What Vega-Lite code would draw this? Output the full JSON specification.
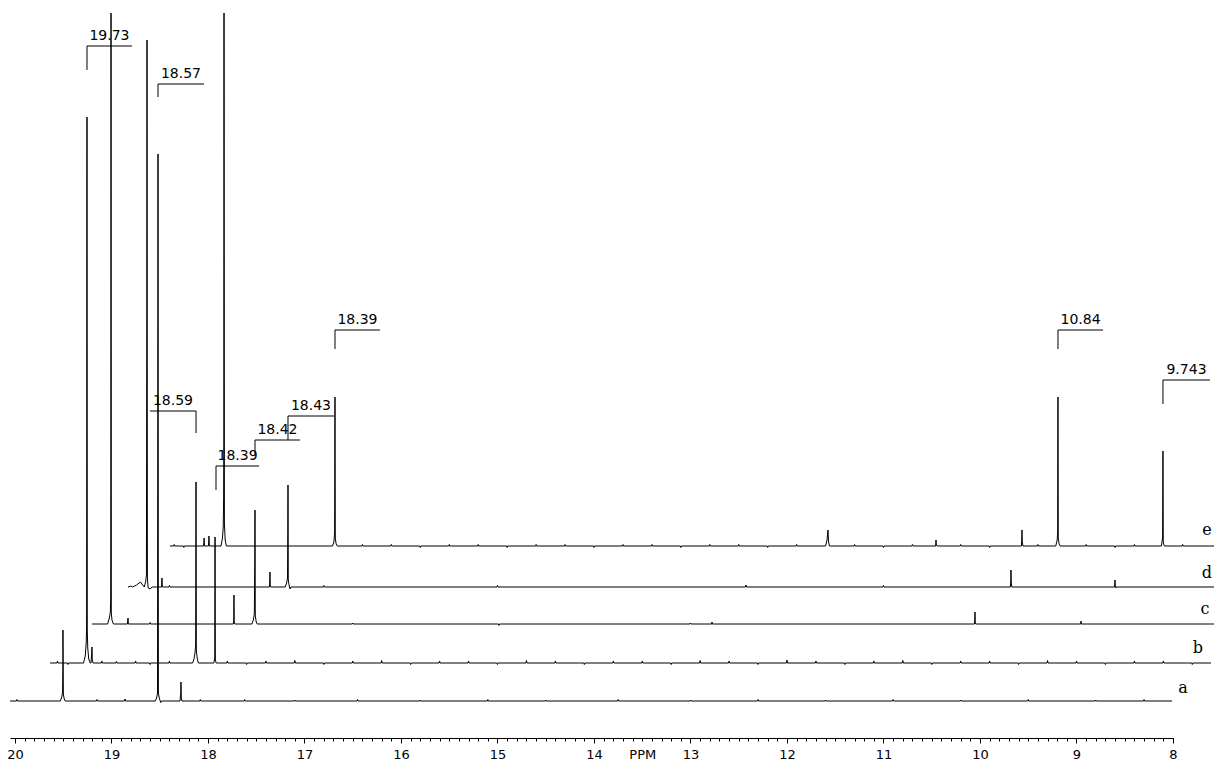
{
  "$schema": "https://vega.github.io/schema/vega-lite/v6.json",
  "width": 1163,
  "height": 725,
  "autosize": {"type": "none"},
  "padding": {"left": 10, "top": 13, "right": 41, "bottom": 25},
  "background": "white",
  "config": {"view": {"stroke": null}, "font": "DejaVu Sans", "axis": {"labelOverlap": false, "labelBound": false, "labelFlush": false}},
  "datasets": {
    "spec": [
      {"s":"a","x":20.052,"y":37},
      {"s":"a","x":19.985,"y":37},{"s":"a","x":19.98,"y":38.5},{"s":"a","x":19.975,"y":37},
      {"s":"a","x":19.53,"y":37},{"s":"a","x":19.515,"y":41},{"s":"a","x":19.507,"y":46},{"s":"a","x":19.504,"y":70},{"s":"a","x":19.503,"y":108},{"s":"a","x":19.499,"y":44},{"s":"a","x":19.49,"y":39},{"s":"a","x":19.48,"y":37},
      {"s":"a","x":19.155,"y":37},{"s":"a","x":19.15,"y":38.5},{"s":"a","x":19.145,"y":37},
      {"s":"a","x":18.865,"y":37},{"s":"a","x":18.86,"y":39},{"s":"a","x":18.855,"y":37},
      {"s":"a","x":18.545,"y":37},{"s":"a","x":18.53,"y":41},{"s":"a","x":18.523,"y":45},{"s":"a","x":18.521,"y":258},{"s":"a","x":18.518,"y":584},{"s":"a","x":18.514,"y":45},{"s":"a","x":18.505,"y":40},{"s":"a","x":18.49,"y":35.5},{"s":"a","x":18.48,"y":37},
      {"s":"a","x":18.29,"y":37},{"s":"a","x":18.282,"y":45},{"s":"a","x":18.28,"y":56},{"s":"a","x":18.277,"y":40},{"s":"a","x":18.27,"y":37},
      {"s":"a","x":18.085,"y":37},{"s":"a","x":18.08,"y":38.5},{"s":"a","x":18.075,"y":37},
      {"s":"a","x":17.625,"y":37},{"s":"a","x":17.62,"y":38.5},{"s":"a","x":17.615,"y":37},
      {"s":"a","x":17.105,"y":37},{"s":"a","x":17.1,"y":38},{"s":"a","x":17.095,"y":37},
      {"s":"a","x":16.455,"y":37},{"s":"a","x":16.45,"y":38.5},{"s":"a","x":16.445,"y":37},
      {"s":"a","x":15.805,"y":37},{"s":"a","x":15.8,"y":38},{"s":"a","x":15.795,"y":37},
      {"s":"a","x":15.105,"y":37},{"s":"a","x":15.1,"y":38.5},{"s":"a","x":15.095,"y":37},
      {"s":"a","x":14.505,"y":37},{"s":"a","x":14.5,"y":38},{"s":"a","x":14.495,"y":37},
      {"s":"a","x":13.755,"y":37},{"s":"a","x":13.75,"y":38.5},{"s":"a","x":13.745,"y":37},
      {"s":"a","x":13.005,"y":37},{"s":"a","x":13.0,"y":38},{"s":"a","x":12.995,"y":37},
      {"s":"a","x":12.305,"y":37},{"s":"a","x":12.3,"y":38.5},{"s":"a","x":12.295,"y":37},
      {"s":"a","x":11.605,"y":37},{"s":"a","x":11.6,"y":38},{"s":"a","x":11.595,"y":37},
      {"s":"a","x":10.905,"y":37},{"s":"a","x":10.9,"y":38.5},{"s":"a","x":10.895,"y":37},
      {"s":"a","x":10.205,"y":37},{"s":"a","x":10.2,"y":38},{"s":"a","x":10.195,"y":37},
      {"s":"a","x":9.505,"y":37},{"s":"a","x":9.5,"y":38.5},{"s":"a","x":9.495,"y":37},
      {"s":"a","x":8.805,"y":37},{"s":"a","x":8.8,"y":38},{"s":"a","x":8.795,"y":37},
      {"s":"a","x":8.305,"y":37},{"s":"a","x":8.3,"y":38.5},{"s":"a","x":8.295,"y":37},
      {"s":"a","x":8.01,"y":37},

      {"s":"b","x":19.637,"y":75},
      {"s":"b","x":19.565,"y":75},{"s":"b","x":19.56,"y":77},{"s":"b","x":19.555,"y":75},
      {"s":"b","x":19.455,"y":75},{"s":"b","x":19.45,"y":73.5},{"s":"b","x":19.445,"y":75},
      {"s":"b","x":19.29,"y":75},{"s":"b","x":19.272,"y":82},{"s":"b","x":19.262,"y":95},{"s":"b","x":19.258,"y":110},{"s":"b","x":19.256,"y":365},{"s":"b","x":19.254,"y":621},{"s":"b","x":19.251,"y":108},{"s":"b","x":19.246,"y":90},{"s":"b","x":19.236,"y":79},{"s":"b","x":19.22,"y":75},
      {"s":"b","x":19.212,"y":75},{"s":"b","x":19.206,"y":84},{"s":"b","x":19.202,"y":91},{"s":"b","x":19.199,"y":78},{"s":"b","x":19.19,"y":75},
      {"s":"b","x":19.105,"y":75},{"s":"b","x":19.1,"y":77},{"s":"b","x":19.095,"y":75},
      {"s":"b","x":18.955,"y":75},{"s":"b","x":18.95,"y":76.5},{"s":"b","x":18.945,"y":75},
      {"s":"b","x":18.755,"y":75},{"s":"b","x":18.75,"y":77},{"s":"b","x":18.745,"y":75},
      {"s":"b","x":18.605,"y":75},{"s":"b","x":18.6,"y":73.5},{"s":"b","x":18.595,"y":75},
      {"s":"b","x":18.405,"y":75},{"s":"b","x":18.4,"y":77},{"s":"b","x":18.395,"y":75},
      {"s":"b","x":18.16,"y":75},{"s":"b","x":18.145,"y":79},{"s":"b","x":18.135,"y":85},{"s":"b","x":18.128,"y":92},{"s":"b","x":18.126,"y":170},{"s":"b","x":18.124,"y":256},{"s":"b","x":18.121,"y":88},{"s":"b","x":18.112,"y":80},{"s":"b","x":18.1,"y":75},
      {"s":"b","x":17.94,"y":75},{"s":"b","x":17.93,"y":80},{"s":"b","x":17.927,"y":201},{"s":"b","x":17.924,"y":78},{"s":"b","x":17.915,"y":75},
      {"s":"b","x":17.805,"y":75},{"s":"b","x":17.8,"y":77},{"s":"b","x":17.795,"y":75},
      {"s":"b","x":17.605,"y":75},{"s":"b","x":17.6,"y":73.5},{"s":"b","x":17.595,"y":75},
      {"s":"b","x":17.405,"y":75},{"s":"b","x":17.4,"y":77},{"s":"b","x":17.395,"y":75},
      {"s":"b","x":17.105,"y":75},{"s":"b","x":17.1,"y":77.5},{"s":"b","x":17.095,"y":75},
      {"s":"b","x":16.805,"y":75},{"s":"b","x":16.8,"y":73.5},{"s":"b","x":16.795,"y":75},
      {"s":"b","x":16.505,"y":75},{"s":"b","x":16.5,"y":77},{"s":"b","x":16.495,"y":75},
      {"s":"b","x":16.205,"y":75},{"s":"b","x":16.2,"y":77.5},{"s":"b","x":16.195,"y":75},
      {"s":"b","x":15.905,"y":75},{"s":"b","x":15.9,"y":73.5},{"s":"b","x":15.895,"y":75},
      {"s":"b","x":15.605,"y":75},{"s":"b","x":15.6,"y":77},{"s":"b","x":15.595,"y":75},
      {"s":"b","x":15.305,"y":75},{"s":"b","x":15.3,"y":77},{"s":"b","x":15.295,"y":75},
      {"s":"b","x":15.005,"y":75},{"s":"b","x":15.0,"y":73.5},{"s":"b","x":14.995,"y":75},
      {"s":"b","x":14.705,"y":75},{"s":"b","x":14.7,"y":77.5},{"s":"b","x":14.695,"y":75},
      {"s":"b","x":14.405,"y":75},{"s":"b","x":14.4,"y":77},{"s":"b","x":14.395,"y":75},
      {"s":"b","x":14.105,"y":75},{"s":"b","x":14.1,"y":73.5},{"s":"b","x":14.095,"y":75},
      {"s":"b","x":13.805,"y":75},{"s":"b","x":13.8,"y":77},{"s":"b","x":13.795,"y":75},
      {"s":"b","x":13.505,"y":75},{"s":"b","x":13.5,"y":77},{"s":"b","x":13.495,"y":75},
      {"s":"b","x":13.205,"y":75},{"s":"b","x":13.2,"y":73.5},{"s":"b","x":13.195,"y":75},
      {"s":"b","x":12.905,"y":75},{"s":"b","x":12.9,"y":77.5},{"s":"b","x":12.895,"y":75},
      {"s":"b","x":12.605,"y":75},{"s":"b","x":12.6,"y":77},{"s":"b","x":12.595,"y":75},
      {"s":"b","x":12.305,"y":75},{"s":"b","x":12.3,"y":73.5},{"s":"b","x":12.295,"y":75},
      {"s":"b","x":12.005,"y":75},{"s":"b","x":12.0,"y":78},{"s":"b","x":11.995,"y":75},
      {"s":"b","x":11.705,"y":75},{"s":"b","x":11.7,"y":77},{"s":"b","x":11.695,"y":75},
      {"s":"b","x":11.405,"y":75},{"s":"b","x":11.4,"y":73.5},{"s":"b","x":11.395,"y":75},
      {"s":"b","x":11.105,"y":75},{"s":"b","x":11.1,"y":77},{"s":"b","x":11.095,"y":75},
      {"s":"b","x":10.805,"y":75},{"s":"b","x":10.8,"y":77.5},{"s":"b","x":10.795,"y":75},
      {"s":"b","x":10.505,"y":75},{"s":"b","x":10.5,"y":73.5},{"s":"b","x":10.495,"y":75},
      {"s":"b","x":10.205,"y":75},{"s":"b","x":10.2,"y":77},{"s":"b","x":10.195,"y":75},
      {"s":"b","x":9.905,"y":75},{"s":"b","x":9.9,"y":77},{"s":"b","x":9.895,"y":75},
      {"s":"b","x":9.605,"y":75},{"s":"b","x":9.6,"y":73.5},{"s":"b","x":9.595,"y":75},
      {"s":"b","x":9.305,"y":75},{"s":"b","x":9.3,"y":77.5},{"s":"b","x":9.295,"y":75},
      {"s":"b","x":9.005,"y":75},{"s":"b","x":9.0,"y":77},{"s":"b","x":8.995,"y":75},
      {"s":"b","x":8.705,"y":75},{"s":"b","x":8.7,"y":73.5},{"s":"b","x":8.695,"y":75},
      {"s":"b","x":8.405,"y":75},{"s":"b","x":8.4,"y":77},{"s":"b","x":8.395,"y":75},
      {"s":"b","x":8.105,"y":75},{"s":"b","x":8.1,"y":77},{"s":"b","x":8.095,"y":75},
      {"s":"b","x":7.805,"y":75},{"s":"b","x":7.8,"y":73.5},{"s":"b","x":7.795,"y":75},
      {"s":"b","x":7.606,"y":75},

      {"s":"c","x":19.202,"y":114},
      {"s":"c","x":19.04,"y":114},{"s":"c","x":19.022,"y":120},{"s":"c","x":19.012,"y":126},{"s":"c","x":19.008,"y":140},{"s":"c","x":19.006,"y":401},{"s":"c","x":19.005,"y":725},{"s":"c","x":19.002,"y":125},{"s":"c","x":18.995,"y":118},{"s":"c","x":18.98,"y":114},
      {"s":"c","x":18.835,"y":114},{"s":"c","x":18.829,"y":120},{"s":"c","x":18.825,"y":114},
      {"s":"c","x":18.605,"y":114},{"s":"c","x":18.6,"y":115.5},{"s":"c","x":18.595,"y":114},
      {"s":"c","x":17.738,"y":114},{"s":"c","x":17.733,"y":118},{"s":"c","x":17.731,"y":143},{"s":"c","x":17.728,"y":116},{"s":"c","x":17.722,"y":114},
      {"s":"c","x":17.545,"y":114},{"s":"c","x":17.53,"y":118},{"s":"c","x":17.52,"y":124},{"s":"c","x":17.515,"y":180},{"s":"c","x":17.513,"y":228},{"s":"c","x":17.51,"y":122},{"s":"c","x":17.5,"y":116},{"s":"c","x":17.49,"y":114},
      {"s":"c","x":16.505,"y":114},{"s":"c","x":16.5,"y":115},{"s":"c","x":16.495,"y":114},
      {"s":"c","x":14.99,"y":114},{"s":"c","x":14.985,"y":112.5},{"s":"c","x":14.98,"y":114},
      {"s":"c","x":13.005,"y":114},{"s":"c","x":13.0,"y":115},{"s":"c","x":12.995,"y":114},
      {"s":"c","x":12.78,"y":114},{"s":"c","x":12.777,"y":116},{"s":"c","x":12.774,"y":114},
      {"s":"c","x":10.058,"y":114},{"s":"c","x":10.053,"y":120},{"s":"c","x":10.052,"y":126},{"s":"c","x":10.049,"y":115},{"s":"c","x":10.044,"y":114},
      {"s":"c","x":8.956,"y":114},{"s":"c","x":8.953,"y":117},{"s":"c","x":8.95,"y":114},
      {"s":"c","x":7.554,"y":114},

      {"s":"d","x":18.829,"y":151},
      {"s":"d","x":18.8,"y":152},{"s":"d","x":18.78,"y":151},{"s":"d","x":18.74,"y":153},{"s":"d","x":18.7,"y":156},{"s":"d","x":18.67,"y":152},
      {"s":"d","x":18.66,"y":151},{"s":"d","x":18.645,"y":157},{"s":"d","x":18.638,"y":163},{"s":"d","x":18.634,"y":436},{"s":"d","x":18.632,"y":698},{"s":"d","x":18.628,"y":160},{"s":"d","x":18.62,"y":150},{"s":"d","x":18.6,"y":149},{"s":"d","x":18.58,"y":151},
      {"s":"d","x":18.482,"y":151},{"s":"d","x":18.477,"y":160},{"s":"d","x":18.473,"y":151},
      {"s":"d","x":18.405,"y":151},{"s":"d","x":18.4,"y":152.5},{"s":"d","x":18.395,"y":151},
      {"s":"d","x":17.364,"y":151},{"s":"d","x":17.36,"y":157},{"s":"d","x":17.358,"y":166},{"s":"d","x":17.355,"y":153},{"s":"d","x":17.35,"y":151},
      {"s":"d","x":17.2,"y":151},{"s":"d","x":17.185,"y":155},{"s":"d","x":17.176,"y":160},{"s":"d","x":17.173,"y":206},{"s":"d","x":17.171,"y":253},{"s":"d","x":17.168,"y":158},{"s":"d","x":17.16,"y":153},{"s":"d","x":17.15,"y":149},{"s":"d","x":17.14,"y":151},
      {"s":"d","x":16.805,"y":151},{"s":"d","x":16.8,"y":152.5},{"s":"d","x":16.795,"y":151},
      {"s":"d","x":15.005,"y":151},{"s":"d","x":15.0,"y":152.5},{"s":"d","x":14.995,"y":151},
      {"s":"d","x":12.43,"y":151},{"s":"d","x":12.425,"y":153},{"s":"d","x":12.42,"y":151},
      {"s":"d","x":11.005,"y":151},{"s":"d","x":11.0,"y":152.5},{"s":"d","x":10.995,"y":151},
      {"s":"d","x":9.685,"y":151},{"s":"d","x":9.681,"y":157},{"s":"d","x":9.679,"y":168},{"s":"d","x":9.676,"y":155},{"s":"d","x":9.67,"y":151},
      {"s":"d","x":8.606,"y":151},{"s":"d","x":8.601,"y":158},{"s":"d","x":8.598,"y":152},{"s":"d","x":8.59,"y":150},{"s":"d","x":8.585,"y":151},
      {"s":"d","x":7.554,"y":151},

      {"s":"e","x":18.394,"y":192},
      {"s":"e","x":18.355,"y":192},{"s":"e","x":18.35,"y":193.5},{"s":"e","x":18.345,"y":192},
      {"s":"e","x":18.255,"y":192},{"s":"e","x":18.25,"y":190.5},{"s":"e","x":18.245,"y":192},
      {"s":"e","x":18.045,"y":192},{"s":"e","x":18.04,"y":200},{"s":"e","x":18.036,"y":192},
      {"s":"e","x":17.995,"y":192},{"s":"e","x":17.99,"y":202},{"s":"e","x":17.986,"y":192},
      {"s":"e","x":17.865,"y":192},{"s":"e","x":17.85,"y":200},{"s":"e","x":17.842,"y":211},{"s":"e","x":17.838,"y":240},{"s":"e","x":17.836,"y":301},{"s":"e","x":17.834,"y":725},{"s":"e","x":17.83,"y":215},{"s":"e","x":17.822,"y":198},{"s":"e","x":17.81,"y":192},
      {"s":"e","x":16.71,"y":192},{"s":"e","x":16.695,"y":196},{"s":"e","x":16.688,"y":205},{"s":"e","x":16.686,"y":270},{"s":"e","x":16.684,"y":341},{"s":"e","x":16.681,"y":200},{"s":"e","x":16.672,"y":194},{"s":"e","x":16.66,"y":192},
      {"s":"e","x":16.405,"y":192},{"s":"e","x":16.4,"y":193.5},{"s":"e","x":16.395,"y":192},
      {"s":"e","x":16.105,"y":192},{"s":"e","x":16.1,"y":193.5},{"s":"e","x":16.095,"y":192},
      {"s":"e","x":15.805,"y":192},{"s":"e","x":15.8,"y":190.5},{"s":"e","x":15.795,"y":192},
      {"s":"e","x":15.505,"y":192},{"s":"e","x":15.5,"y":193.5},{"s":"e","x":15.495,"y":192},
      {"s":"e","x":15.205,"y":192},{"s":"e","x":15.2,"y":193.5},{"s":"e","x":15.195,"y":192},
      {"s":"e","x":14.905,"y":192},{"s":"e","x":14.9,"y":190.5},{"s":"e","x":14.895,"y":192},
      {"s":"e","x":14.605,"y":192},{"s":"e","x":14.6,"y":193.5},{"s":"e","x":14.595,"y":192},
      {"s":"e","x":14.305,"y":192},{"s":"e","x":14.3,"y":193.5},{"s":"e","x":14.295,"y":192},
      {"s":"e","x":14.005,"y":192},{"s":"e","x":14.0,"y":190.5},{"s":"e","x":13.995,"y":192},
      {"s":"e","x":13.705,"y":192},{"s":"e","x":13.7,"y":193.5},{"s":"e","x":13.695,"y":192},
      {"s":"e","x":13.405,"y":192},{"s":"e","x":13.4,"y":193.5},{"s":"e","x":13.395,"y":192},
      {"s":"e","x":13.105,"y":192},{"s":"e","x":13.1,"y":190.5},{"s":"e","x":13.095,"y":192},
      {"s":"e","x":12.805,"y":192},{"s":"e","x":12.8,"y":193.5},{"s":"e","x":12.795,"y":192},
      {"s":"e","x":12.505,"y":192},{"s":"e","x":12.5,"y":193.5},{"s":"e","x":12.495,"y":192},
      {"s":"e","x":12.205,"y":192},{"s":"e","x":12.2,"y":190.5},{"s":"e","x":12.195,"y":192},
      {"s":"e","x":11.905,"y":192},{"s":"e","x":11.9,"y":193.5},{"s":"e","x":11.895,"y":192},
      {"s":"e","x":11.6,"y":192},{"s":"e","x":11.585,"y":198},{"s":"e","x":11.578,"y":206},{"s":"e","x":11.575,"y":208},{"s":"e","x":11.57,"y":197},{"s":"e","x":11.56,"y":192},
      {"s":"e","x":11.305,"y":192},{"s":"e","x":11.3,"y":193.5},{"s":"e","x":11.295,"y":192},
      {"s":"e","x":11.005,"y":192},{"s":"e","x":11.0,"y":190.5},{"s":"e","x":10.995,"y":192},
      {"s":"e","x":10.705,"y":192},{"s":"e","x":10.7,"y":193.5},{"s":"e","x":10.695,"y":192},
      {"s":"e","x":10.46,"y":192},{"s":"e","x":10.456,"y":198},{"s":"e","x":10.452,"y":193},{"s":"e","x":10.445,"y":192},
      {"s":"e","x":10.205,"y":192},{"s":"e","x":10.2,"y":193.5},{"s":"e","x":10.195,"y":192},
      {"s":"e","x":9.905,"y":192},{"s":"e","x":9.9,"y":190.5},{"s":"e","x":9.895,"y":192},
      {"s":"e","x":9.57,"y":192},{"s":"e","x":9.567,"y":200},{"s":"e","x":9.565,"y":208},{"s":"e","x":9.562,"y":196},{"s":"e","x":9.555,"y":192},
      {"s":"e","x":9.405,"y":192},{"s":"e","x":9.4,"y":193.5},{"s":"e","x":9.395,"y":192},
      {"s":"e","x":9.215,"y":192},{"s":"e","x":9.2,"y":198},{"s":"e","x":9.195,"y":206},{"s":"e","x":9.194,"y":270},{"s":"e","x":9.192,"y":341},{"s":"e","x":9.189,"y":200},{"s":"e","x":9.18,"y":194},{"s":"e","x":9.17,"y":192},
      {"s":"e","x":8.905,"y":192},{"s":"e","x":8.9,"y":193.5},{"s":"e","x":8.895,"y":192},
      {"s":"e","x":8.605,"y":192},{"s":"e","x":8.6,"y":190.5},{"s":"e","x":8.595,"y":192},
      {"s":"e","x":8.405,"y":192},{"s":"e","x":8.4,"y":193.5},{"s":"e","x":8.395,"y":192},
      {"s":"e","x":8.12,"y":192},{"s":"e","x":8.108,"y":200},{"s":"e","x":8.106,"y":240},{"s":"e","x":8.104,"y":287},{"s":"e","x":8.101,"y":196},{"s":"e","x":8.09,"y":192},
      {"s":"e","x":7.905,"y":192},{"s":"e","x":7.9,"y":193.5},{"s":"e","x":7.895,"y":192},
      {"s":"e","x":7.554,"y":192}
    ],
    "peaks": [
      {"label":"19.73","x":19.254,"x2":18.787,"y":692,"y2":668,"xm":19.021},
      {"label":"18.57","x":18.518,"x2":18.041,"y":654,"y2":641,"xm":18.28},
      {"label":"18.59","x":18.124,"x2":18.601,"y":327,"y2":305,"xm":18.363},
      {"label":"18.39","x":17.917,"x2":17.471,"y":272,"y2":248,"xm":17.694},
      {"label":"18.42","x":17.513,"x2":17.047,"y":298,"y2":283,"xm":17.28},
      {"label":"18.43","x":17.171,"x2":16.694,"y":322,"y2":298,"xm":16.933},
      {"label":"18.39","x":16.684,"x2":16.218,"y":408,"y2":389,"xm":16.451},
      {"label":"10.84","x":9.192,"x2":8.725,"y":408,"y2":389,"xm":8.958},
      {"label":"9.743","x":8.104,"x2":7.617,"y":358,"y2":334,"xm":7.86}
    ],
    "names": [
      {"s":"a","x":7.896,"y":50},
      {"s":"b","x":7.741,"y":90},
      {"s":"c","x":7.668,"y":129},
      {"s":"d","x":7.648,"y":165},
      {"s":"e","x":7.648,"y":208}
    ]
  },
  "layer": [
    {
      "data": {"name": "spec"},
      "mark": {"type": "line", "color": "black", "strokeWidth": 1},
      "encoding": {
        "x": {
          "field": "x", "type": "quantitative",
          "scale": {"domain": [8, 20.0518], "reverse": true, "nice": false, "zero": false},
          "axis": {
            "orient": "bottom",
            "values": [20, 18, 16, 14, 12, 10, 8],
            "format": "d",
            "tickSize": 5, "tickWidth": 1, "tickColor": "black",
            "domain": true, "domainColor": "black", "domainWidth": 1,
            "labelFont": "DejaVu Sans", "labelFontSize": 13, "labelColor": "black",
            "labelPadding": 5, "labelFlush": false, "labelOverlap": false, "labelBound": false,
            "grid": false, "title": null
          }
        },
        "y": {
          "field": "y", "type": "quantitative",
          "scale": {"domain": [0, 725], "nice": false, "zero": false},
          "axis": null
        },
        "detail": {"field": "s"}
      }
    },
    {
      "data": {"name": "peaks"},
      "mark": {"type": "rule", "color": "black", "strokeWidth": 1},
      "encoding": {
        "x": {
          "field": "x", "type": "quantitative",
          "axis": {
            "orient": "bottom", "tickCount": 120, "labels": false, "domain": false,
            "tickSize": 3, "tickWidth": 1, "tickColor": "black", "grid": false, "title": null
          }
        },
        "x2": {"field": "x2"},
        "y": {"field": "y", "type": "quantitative", "axis": null}
      }
    },
    {
      "data": {"name": "peaks"},
      "mark": {"type": "rule", "color": "black", "strokeWidth": 1},
      "encoding": {
        "x": {
          "field": "x", "type": "quantitative",
          "axis": {
            "orient": "bottom",
            "values": [19, 17, 15, 13, 11, 9],
            "format": "d",
            "tickSize": 5, "tickWidth": 1, "tickColor": "black",
            "domain": false,
            "labelFont": "DejaVu Sans", "labelFontSize": 13, "labelColor": "black",
            "labelPadding": 5, "labelFlush": false, "labelOverlap": false, "labelBound": false,
            "grid": false, "title": null
          }
        },
        "y": {"field": "y", "type": "quantitative", "axis": null},
        "y2": {"field": "y2"}
      }
    },
    {
      "data": {"name": "peaks"},
      "mark": {"type": "text", "font": "DejaVu Sans", "fontSize": 14, "color": "black", "align": "center", "baseline": "alphabetic", "dy": -6},
      "encoding": {
        "x": {
          "field": "xm", "type": "quantitative",
          "axis": {
            "orient": "bottom",
            "values": [13.5],
            "labelExpr": "'PPM'",
            "tickSize": 5, "tickOpacity": 0,
            "domain": false,
            "labelFont": "DejaVu Sans", "labelFontSize": 13, "labelColor": "black",
            "labelPadding": 5, "labelFlush": false, "labelOverlap": false, "labelBound": false,
            "grid": false, "title": null
          }
        },
        "y": {"field": "y", "type": "quantitative", "axis": null},
        "text": {"field": "label"}
      }
    },
    {
      "data": {"name": "names"},
      "mark": {"type": "text", "font": "DejaVu Serif", "fontSize": 16, "color": "black", "align": "center", "baseline": "middle"},
      "encoding": {
        "x": {"field": "x", "type": "quantitative", "axis": null},
        "y": {"field": "y", "type": "quantitative", "axis": null},
        "text": {"field": "s"}
      }
    }
  ],
  "resolve": {"axis": {"x": "independent"}}
}
